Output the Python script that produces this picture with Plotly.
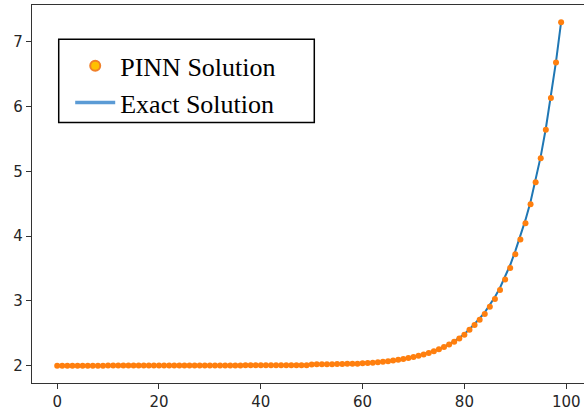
import plotly.graph_objects as go

x_vals = list(range(100))

pinn_vals = (
    [2.000] * 10 + [2.003] * 13 + [2.006] * 14 + [2.010] * 13 +
    [2.022, 2.023, 2.024, 2.025, 2.026, 2.027, 2.028, 2.030, 2.031, 2.033,
     2.038, 2.043, 2.049, 2.056, 2.063, 2.072, 2.082, 2.093, 2.105, 2.119,
     2.135, 2.154, 2.174, 2.198, 2.225, 2.255, 2.289, 2.328, 2.373, 2.423,
     2.480, 2.555, 2.630, 2.710, 2.800, 2.910, 3.030, 3.170, 3.330, 3.510,
     3.720, 3.950, 4.200, 4.490, 4.830, 5.200, 5.640, 6.130, 6.680, 7.300]
)

exact_vals = (
    [2.000] * 10 + [2.003] * 13 + [2.006] * 14 + [2.010] * 13 +
    [2.022, 2.023, 2.024, 2.025, 2.026, 2.027, 2.028, 2.030, 2.031, 2.033,
     2.038, 2.043, 2.049, 2.056, 2.063, 2.072, 2.082, 2.093, 2.105, 2.119,
     2.136, 2.155, 2.176, 2.200, 2.228, 2.259, 2.294, 2.334, 2.380, 2.431,
     2.490, 2.565, 2.645, 2.730, 2.825, 2.935, 3.060, 3.205, 3.370, 3.555,
     3.770, 4.000, 4.250, 4.530, 4.860, 5.230, 5.660, 6.140, 6.690, 7.300]
)

series_names = ["PINN Solution", "Exact Solution"]
x_ticks = [0, 20, 40, 60, 80, 100]
y_ticks = [2, 3, 4, 5, 6, 7]

fig = go.Figure()
# exact line (drawn first)
fig.add_trace(go.Scatter(x=x_vals, y=exact_vals, mode="lines",
                         line=dict(color="#1f77b4", width=2),
                         showlegend=False, hoverinfo="skip"))
# PINN dots
fig.add_trace(go.Scatter(x=x_vals, y=pinn_vals, mode="markers",
                         marker=dict(color="#ff7f0e", size=6, line=dict(width=0)),
                         showlegend=False))
# legend entries
fig.add_trace(go.Scatter(x=[None], y=[None], mode="markers", name=series_names[0],
                         marker=dict(color="#ffc000", size=10,
                                     line=dict(color="#f0802a", width=2))))
fig.add_trace(go.Scatter(x=[None], y=[None], mode="lines", name=series_names[1],
                         line=dict(color="#5b9bd5", width=3.5)))

axis_common = dict(
    showgrid=False, zeroline=False, showline=True, linecolor="#333333", linewidth=1.3,
    ticks="outside", ticklen=5, tickwidth=1.2, tickcolor="#333333",
    tickfont=dict(family="DejaVu Sans", size=15, color="#262626"),
)
fig.update_xaxes(range=[-4.95, 103.5], tickvals=x_ticks, mirror=True, **axis_common)
fig.update_yaxes(range=[1.735, 7.565], tickvals=y_ticks, mirror=False, **axis_common)

# legend frame
fig.add_shape(type="rect", xref="paper", yref="paper",
              x0=0.0484, x1=0.5114, y0=0.6889, y1=0.9093,
              line=dict(color="black", width=1.5), fillcolor="white", layer="above")

fig.update_layout(
    width=584, height=416,
    margin=dict(l=32, r=0, t=5, b=33, pad=0),
    plot_bgcolor="white", paper_bgcolor="white",
    legend=dict(x=0.0665, y=0.905, xanchor="left", yanchor="top",
                bgcolor="rgba(0,0,0,0)", bordercolor="rgba(0,0,0,0)", borderwidth=1.5,
                font=dict(family="Liberation Serif", size=26, color="black"),
                itemwidth=40, tracegroupgap=0),
)

fig.write_html("out.html")
